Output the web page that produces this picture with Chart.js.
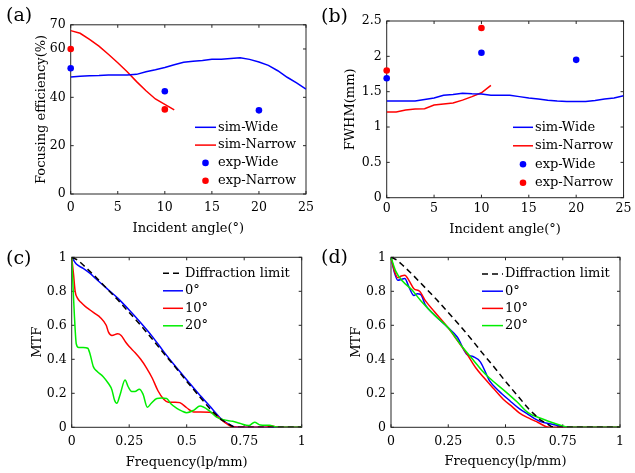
<!DOCTYPE html>
<html>
<head>
<meta charset="utf-8">
<script src="https://cdn.jsdelivr.net/npm/chart.js@4.4.1/dist/chart.umd.min.js"></script>
<style>
    html, body { margin: 0; padding: 0; background: #ffffff; }
    #wrap { position: relative; width: 635px; height: 473px; }
    #wrap canvas { position: absolute; left: 0; top: 0; }
</style>
</head>
<body>
<div id="wrap">
    <canvas id="chartA" width="635" height="473"></canvas>
    <canvas id="chartB" width="635" height="473"></canvas>
    <canvas id="chartC" width="635" height="473"></canvas>
    <canvas id="chartD" width="635" height="473"></canvas>
</div>
<script>
// ---- data: panel (a) focusing efficiency, panel (b) FWHM ----
const angleDeg = [0, 1, 2, 3, 4, 5, 6, 7, 8, 9, 10, 11, 12, 13, 14, 15, 16, 17, 18, 19, 20, 21, 22, 23, 24, 25];
const narrowAngleDeg = [0, 1, 2, 3, 4, 5, 6, 7, 8, 9, 10, 11];
const expWideAngle = [0, 10, 20];
const expNarrowAngle = [0, 10];

const effSimWide = [48.4, 48.7, 48.9, 49.0, 49.2, 49.2, 49.2, 49.5, 50.6, 51.4, 52.3, 53.5, 54.5, 54.9, 55.2, 55.7, 55.7, 56.1, 56.4, 55.7, 54.6, 53.2, 51.0, 48.3, 46.0, 43.4];
const effSimNarrow = [67.6, 66.5, 64.0, 61.2, 57.8, 54.3, 50.6, 46.5, 42.7, 39.3, 37.1, 34.8];
const effExpWide = [52, 42.5, 34.6];
const effExpNarrow = [60, 35];

const fwhmSimWide = [1.368, 1.368, 1.368, 1.368, 1.39, 1.41, 1.45, 1.46, 1.477, 1.47, 1.467, 1.45, 1.45, 1.45, 1.43, 1.41, 1.396, 1.38, 1.368, 1.36, 1.36, 1.36, 1.375, 1.396, 1.41, 1.443];
const fwhmSimNarrow = [1.212, 1.212, 1.24, 1.255, 1.26, 1.31, 1.325, 1.34, 1.38, 1.43, 1.485, 1.59];
const fwhmExpWide = [1.69, 2.05, 1.95];
const fwhmExpNarrow = [1.8, 2.4];

// ---- data: panels (c) and (d), MTF ----
const limitFreq = [0, 0.025, 0.05, 0.1, 0.15, 0.2, 0.25, 0.3, 0.35, 0.4, 0.45, 0.5, 0.55, 0.6, 0.65, 0.7, 0.72, 0.8, 0.9, 1];
const limitMtf = [1, 0.985, 0.955, 0.89, 0.82, 0.75, 0.675, 0.6, 0.52, 0.435, 0.355, 0.27, 0.19, 0.11, 0.045, 0.005, 0, 0, 0, 0];

const c0Freq = [0, 0.02, 0.05, 0.08, 0.1, 0.15, 0.2, 0.25, 0.3, 0.35, 0.4, 0.45, 0.5, 0.55, 0.6, 0.65, 0.68, 0.72, 0.8, 1];
const c0Mtf = [1, 0.96, 0.935, 0.905, 0.88, 0.82, 0.76, 0.69, 0.615, 0.535, 0.445, 0.36, 0.28, 0.2, 0.125, 0.05, 0.02, 0, 0, 0];
const c10Freq = [0, 0.008, 0.015, 0.025, 0.04, 0.06, 0.08, 0.1, 0.125, 0.15, 0.16, 0.175, 0.2, 0.215, 0.235, 0.25, 0.275, 0.3, 0.325, 0.35, 0.375, 0.4, 0.42, 0.45, 0.47, 0.5, 0.53, 0.56, 0.6, 0.625, 0.65, 0.675, 0.7, 0.75, 0.84, 0.87, 0.9, 1];
const c10Mtf = [1, 0.9, 0.8, 0.76, 0.735, 0.71, 0.69, 0.67, 0.645, 0.6, 0.56, 0.54, 0.55, 0.54, 0.5, 0.475, 0.44, 0.4, 0.35, 0.29, 0.215, 0.165, 0.148, 0.148, 0.145, 0.115, 0.09, 0.09, 0.088, 0.075, 0.045, 0.02, 0.003, 0, 0, 0.008, 0, 0];
const c20Freq = [0, 0.005, 0.012, 0.02, 0.03, 0.05, 0.07, 0.08, 0.094, 0.11, 0.137, 0.159, 0.175, 0.186, 0.196, 0.21, 0.232, 0.245, 0.261, 0.275, 0.294, 0.31, 0.329, 0.345, 0.37, 0.39, 0.413, 0.43, 0.457, 0.48, 0.5, 0.53, 0.558, 0.6, 0.63, 0.66, 0.7, 0.73, 0.77, 0.795, 0.82, 0.86, 0.89, 1];
const c20Mtf = [1, 0.85, 0.65, 0.49, 0.47, 0.47, 0.465, 0.43, 0.357, 0.33, 0.298, 0.259, 0.22, 0.16, 0.141, 0.19, 0.278, 0.24, 0.21, 0.21, 0.224, 0.195, 0.118, 0.14, 0.17, 0.172, 0.17, 0.14, 0.112, 0.095, 0.086, 0.1, 0.125, 0.095, 0.06, 0.045, 0.035, 0.024, 0.01, 0.03, 0.014, 0.012, 0.002, 0];

const d0Freq = [0, 0.015, 0.03, 0.045, 0.06, 0.08, 0.1, 0.115, 0.13, 0.15, 0.19, 0.25, 0.29, 0.33, 0.36, 0.39, 0.43, 0.47, 0.52, 0.56, 0.6, 0.65, 0.7, 0.75, 0.8, 1];
const d0Mtf = [1, 0.91, 0.865, 0.87, 0.875, 0.82, 0.775, 0.785, 0.78, 0.72, 0.66, 0.585, 0.53, 0.43, 0.415, 0.385, 0.275, 0.215, 0.155, 0.11, 0.075, 0.035, 0.02, 0.003, 0, 0];
const d10Freq = [0, 0.015, 0.03, 0.045, 0.06, 0.08, 0.1, 0.125, 0.15, 0.19, 0.25, 0.29, 0.33, 0.37, 0.41, 0.45, 0.49, 0.53, 0.56, 0.6, 0.64, 0.69, 0.75, 1];
const d10Mtf = [1, 0.92, 0.88, 0.89, 0.895, 0.86, 0.815, 0.8, 0.745, 0.68, 0.585, 0.51, 0.435, 0.35, 0.285, 0.225, 0.165, 0.12, 0.085, 0.055, 0.03, 0, 0, 0];
const d20Freq = [0, 0.02, 0.05, 0.09, 0.13, 0.19, 0.25, 0.31, 0.36, 0.4, 0.43, 0.5, 0.55, 0.6, 0.65, 0.7, 0.74, 0.78, 1];
const d20Mtf = [1, 0.92, 0.86, 0.81, 0.745, 0.66, 0.585, 0.475, 0.395, 0.33, 0.29, 0.21, 0.15, 0.085, 0.055, 0.03, 0.012, 0, 0];

// ---- tick labels ----
const angleTicks = [0, 5, 10, 15, 20, 25];
const effTicks = [0, 20, 40, 60, 70];
const fwhmTicks = [0, 0.5, 1, 1.5, 2, 2.5];
const freqTicks = [0, 0.25, 0.5, 0.75, 1];
const mtfTicks = [0, 0.2, 0.4, 0.6, 0.8, 1];

const colors = { blue: "#0000ff", red: "#ff0000", green: "#00ee00", black: "#000000", frame: "#262626", ink: "#000000" };
const serif = "'DejaVu Serif', serif";
const tickFont = { family: serif, size: 12.5 };
const titleFont = { family: serif, size: 13 };

function points(xs, ys) {
    return xs.map((x, i) => ({ x: x, y: ys[i] }));
}

function simLine(label, xs, ys, color, extra = {}) {
    return { label, data: points(xs, ys), borderColor: color, backgroundColor: color, borderWidth: 1.5, pointRadius: 0, tension: 0, ...extra };
}

function expDots(label, xs, ys, color) {
    return { label, data: points(xs, ys), showLine: false, borderColor: color, backgroundColor: color, pointBackgroundColor: color, pointBorderWidth: 0, pointRadius: 3.3, clip: false };
}

// MATLAB-like box with inward ticks, panel letter and in-axes legend
const matlabFrame = {
    id: "matlabFrame",
    beforeDatasetsDraw(chart) {
        const { ctx, chartArea: a, scales: { x, y } } = chart;
        ctx.save();
        ctx.strokeStyle = colors.frame;
        ctx.lineWidth = 1;
        ctx.beginPath();
        x.ticks.forEach((t) => {
            const px = x.getPixelForValue(t.value);
            ctx.moveTo(px, a.bottom); ctx.lineTo(px, a.bottom - 3);
            ctx.moveTo(px, a.top); ctx.lineTo(px, a.top + 3);
        });
        y.ticks.forEach((t) => {
            const py = y.getPixelForValue(t.value);
            ctx.moveTo(a.left, py); ctx.lineTo(a.left + 3, py);
            ctx.moveTo(a.right, py); ctx.lineTo(a.right - 3, py);
        });
        ctx.stroke();
        ctx.strokeRect(a.left, a.top, a.right - a.left, a.bottom - a.top);
        ctx.restore();
    },
    afterDraw(chart, args, opts) {
        const ctx = chart.ctx;
        ctx.save();
        ctx.fillStyle = colors.ink;
        ctx.font = `19px ${serif}`;
        ctx.textBaseline = "middle";
        ctx.textAlign = "left";
        ctx.fillText(opts.letter.text, opts.letter.x, opts.letter.y);

        const lg = opts.legend;
        let yy = lg.y;
        ctx.font = `${titleFont.size}px ${serif}`;
        chart.data.datasets.forEach((ds) => {
            if (ds.showLine === false) {
                ctx.fillStyle = ds.backgroundColor;
                ctx.beginPath();
                ctx.arc(lg.x + lg.sample / 2, yy, 3.3, 0, Math.PI * 2);
                ctx.fill();
            } else {
                ctx.strokeStyle = ds.borderColor;
                ctx.lineWidth = ds.borderWidth;
                ctx.setLineDash(ds.borderDash || []);
                ctx.beginPath();
                ctx.moveTo(lg.x, yy);
                ctx.lineTo(lg.x + lg.sample, yy);
                ctx.stroke();
                ctx.setLineDash([]);
            }
            ctx.fillStyle = colors.ink;
            ctx.fillText(ds.label, lg.x + lg.sample + 2, yy);
            yy += lg.row;
        });
        ctx.restore();
    },
};

function makePanel(canvasId, box, datasets, xAxis, yAxis, letter, legend) {
    const half = titleFont.size * 1.2 / 2;
    const padLeft = box.yTitleX - half;
    const xHeight = box.xTitleY - box.bottom + half;
    const yWidth = box.left - padLeft;
    const tickList = (list) => (scale) => { scale.ticks = list.map((v) => ({ value: v })); };
    new Chart(document.getElementById(canvasId), {
        type: "line",
        data: { datasets },
        plugins: [matlabFrame],
        options: {
            responsive: false,
            animation: false,
            events: [],
            layout: { padding: { left: padLeft, top: box.top, right: 635 - box.right, bottom: 473 - box.bottom - xHeight } },
            plugins: {
                legend: { display: false },
                tooltip: { enabled: false },
                matlabFrame: { letter, legend },
            },
            scales: {
                x: {
                    type: "linear",
                    min: xAxis.min,
                    max: xAxis.max,
                    afterBuildTicks: tickList(xAxis.ticks),
                    afterFit: (s) => { s.height = xHeight; },
                    grid: { display: false, drawTicks: false },
                    border: { display: false },
                    ticks: { color: colors.ink, font: tickFont, padding: xAxis.pad, maxRotation: 0, autoSkip: false, callback: (v) => String(v) },
                    title: { display: true, text: xAxis.title, color: colors.ink, font: titleFont, padding: 0 },
                },
                y: {
                    type: "linear",
                    min: yAxis.min,
                    max: yAxis.max,
                    afterBuildTicks: tickList(yAxis.ticks),
                    afterFit: (s) => { s.width = yWidth; },
                    grid: { display: false, drawTicks: false },
                    border: { display: false },
                    ticks: { color: colors.ink, font: tickFont, padding: 5, autoSkip: false, callback: (v) => String(v) },
                    title: { display: true, text: yAxis.title, color: colors.ink, font: titleFont, padding: 0 },
                },
            },
        },
    });
}

function mtfDatasets(f0, m0, f10, m10, f20, m20) {
    const smooth = { cubicInterpolationMode: "monotone" };
    return [
        simLine("Diffraction limit", limitFreq, limitMtf, colors.black, { borderDash: [6, 4], order: 0 }),
        simLine("0°", f0, m0, colors.blue, { ...smooth, order: 3 }),
        simLine("10°", f10, m10, colors.red, { ...smooth, order: 2 }),
        simLine("20°", f20, m20, colors.green, { ...smooth, order: 1 }),
    ];
}

document.addEventListener("DOMContentLoaded", () => {
    makePanel("chartA",
        { left: 70.7, top: 24.8, right: 306, bottom: 194, yTitleX: 41.7, xTitleY: 228.3 },
        [
            simLine("sim-Wide", angleDeg, effSimWide, colors.blue),
            simLine("sim-Narrow", narrowAngleDeg, effSimNarrow, colors.red),
            expDots("exp-Wide", expWideAngle, effExpWide, colors.blue),
            expDots("exp-Narrow", expNarrowAngle, effExpNarrow, colors.red),
        ],
        { min: 0, max: 25, ticks: angleTicks, title: "Incident angle(°)", pad: 6.5 },
        { min: 0, max: 70, ticks: effTicks, title: "Focusing efficiency(%)" },
        { text: "(a)", x: 6, y: 16 },
        { x: 195, y: 127.3, row: 17.8, sample: 21 });

    makePanel("chartB",
        { left: 386.7, top: 21, right: 626, bottom: 197.7, yTitleX: 351, xTitleY: 230 },
        [
            simLine("sim-Wide", angleDeg, fwhmSimWide, colors.blue),
            simLine("sim-Narrow", narrowAngleDeg, fwhmSimNarrow, colors.red),
            expDots("exp-Wide", expWideAngle, fwhmExpWide, colors.blue),
            expDots("exp-Narrow", expNarrowAngle, fwhmExpNarrow, colors.red),
        ],
        { min: 0, max: 25, ticks: angleTicks, title: "Incident angle(°)", pad: 3.5 },
        { min: 0, max: 2.5, ticks: fwhmTicks, title: "FWHM(mm)" },
        { text: "(b)", x: 321, y: 17 },
        { x: 513, y: 127.3, row: 18.5, sample: 20 });

    makePanel("chartC",
        { left: 71.7, top: 257.3, right: 301.7, bottom: 427.3, yTitleX: 37.3, xTitleY: 462.7 },
        mtfDatasets(c0Freq, c0Mtf, c10Freq, c10Mtf, c20Freq, c20Mtf),
        { min: 0, max: 1, ticks: freqTicks, title: "Frequency(lp/mm)", pad: 7 },
        { min: 0, max: 1, ticks: mtfTicks, title: "MTF" },
        { text: "(c)", x: 6, y: 259 },
        { x: 163, y: 273.3, row: 17.5, sample: 20 });

    makePanel("chartD",
        { left: 391, top: 257.3, right: 620, bottom: 427.3, yTitleX: 356.7, xTitleY: 461.7 },
        mtfDatasets(d0Freq, d0Mtf, d10Freq, d10Mtf, d20Freq, d20Mtf),
        { min: 0, max: 1, ticks: freqTicks, title: "Frequency(lp/mm)", pad: 7 },
        { min: 0, max: 1, ticks: mtfTicks, title: "MTF" },
        { text: "(d)", x: 321, y: 258 },
        { x: 482, y: 274, row: 17.2, sample: 21 });
});
</script>
</body>
</html>
